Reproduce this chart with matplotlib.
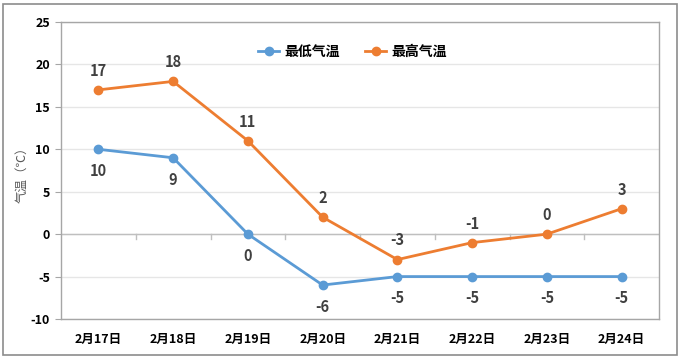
import matplotlib
matplotlib.use("Agg")
import matplotlib.pyplot as plt
from matplotlib.patches import Rectangle

plt.rcParams['font.family'] = ['Noto Sans CJK SC', 'DejaVu Sans']

dates = ["2月17日", "2月18日", "2月19日", "2月20日", "2月21日", "2月22日", "2月23日", "2月24日"]
low = [10, 9, 0, -6, -5, -5, -5, -5]
high = [17, 18, 11, 2, -3, -1, 0, 3]
yticks = [-10, -5, 0, 5, 10, 15, 20, 25]

blue = "#5B9BD5"
orange = "#ED7D31"

fig = plt.figure(figsize=(6.81, 3.59), dpi=100)
fig.patches.append(Rectangle((3/681, 4/359), 674/681, 351/359, transform=fig.transFigure,
                             fill=False, edgecolor="#8c8c8c", linewidth=1.2))
ax = fig.add_axes([61/681, 40/359, 598/681, 297/359])

x = list(range(len(dates)))
ax.plot(x, low, color=blue, linewidth=2, marker='o', markersize=6, label="最低气温", zorder=3)
ax.plot(x, high, color=orange, linewidth=2, marker='o', markersize=6, label="最高气温", zorder=3)

for xi, v in zip(x, low):
    ax.annotate(str(v), (xi, v), xytext=(0, -10), textcoords='offset points', ha='center', va='top',
                fontsize=10.5, fontweight='bold', color="#404040")
for xi, v in zip(x, high):
    ax.annotate(str(v), (xi, v), xytext=(0, 8), textcoords='offset points', ha='center', va='bottom',
                fontsize=10.5, fontweight='bold', color="#404040")

ax.set_xlim(-0.5, len(dates) - 0.5)
ax.set_ylim(-10, 25)
ax.set_yticks(yticks)
ax.set_yticklabels([str(t) for t in yticks], fontsize=9, fontweight='bold')
ax.set_xticks(x)
ax.set_xticklabels(dates, fontsize=9, fontweight='bold')
ax.tick_params(axis='x', length=0, pad=10)
ax.tick_params(axis='y', length=4, color="#a6a6a6", pad=4)
ax.grid(axis='y', color="#e6e6e6", linewidth=1)
ax.set_axisbelow(True)
for s in ax.spines.values():
    s.set_color("#a6a6a6")
    s.set_linewidth(1)
# zero line with category separators (ticks pointing down)
ax.axhline(0, color="#bfbfbf", linewidth=1, zorder=1)
for b in range(1, len(dates)):
    ax.plot([b - 0.5, b - 0.5], [0, -0.6], color="#bfbfbf", linewidth=1, zorder=1)

fig.text(22/681, 1 - 172/359, "气温（℃）", rotation=90, ha='center', va='center',
         fontsize=9, color="#595959")

leg = ax.legend(loc='upper center', bbox_to_anchor=(0.488, 0.965), ncol=2, frameon=False,
                handlelength=1.5, columnspacing=1.8, handletextpad=0.4,
                prop={'weight': 'bold', 'size': 10})

fig.savefig("out.png", dpi=100, facecolor="white")
